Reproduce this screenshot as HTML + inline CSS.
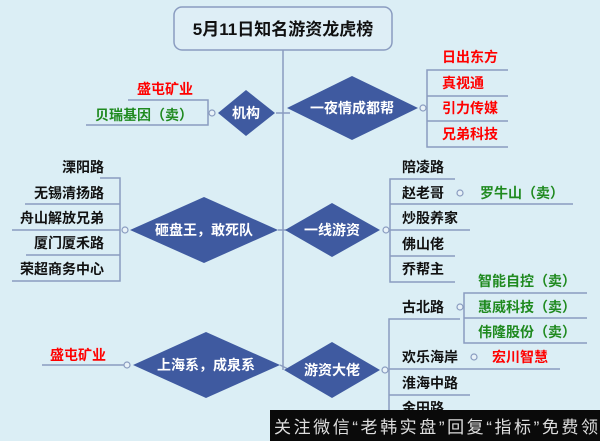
<!DOCTYPE html>
<html><head><meta charset="utf-8"><style>
html,body{margin:0;padding:0;background:#dbeef5;}
svg{display:block}
text{font-family:"Liberation Sans","Noto Sans CJK SC",sans-serif;font-weight:bold;}
</style></head><body>
<svg width="600" height="441" viewBox="0 0 600 441" xmlns="http://www.w3.org/2000/svg">
<rect width="600" height="441" fill="#dbeef5"/>
<g stroke="#8a9cc0" stroke-width="1.5" fill="none">
<line x1="283" y1="50" x2="283" y2="370"/>
<line x1="276" y1="113" x2="290" y2="113"/>
<line x1="278" y1="230" x2="290" y2="230"/>
<line x1="280" y1="365" x2="290" y2="370"/>
<polyline points="128,100 208,100 208,125 86,125"/>
<polyline points="508,70 427,70 427,147 508,147"/>
<line x1="427" y1="96" x2="508" y2="96"/>
<line x1="427" y1="121" x2="508" y2="121"/>
<polyline points="100,178 120,178 120,281 12,281"/>
<line x1="25" y1="204" x2="120" y2="204"/>
<line x1="12" y1="230" x2="120" y2="230"/>
<line x1="26" y1="255" x2="120" y2="255"/>
<polyline points="455,179 390,179 390,282 455,282"/>
<line x1="390" y1="204" x2="573" y2="204"/>
<line x1="390" y1="230" x2="470" y2="230"/>
<line x1="390" y1="256" x2="455" y2="256"/>
<polyline points="460,319 389,319 389,441"/>
<line x1="389" y1="369" x2="560" y2="369"/>
<line x1="389" y1="395" x2="470" y2="395"/>
<polyline points="587,293 464,293 464,343 587,343"/>
<line x1="464" y1="318" x2="587" y2="318"/>
<line x1="42" y1="365" x2="125" y2="365"/>
</g>
<g fill="#e8f2f8" stroke="#8a9cc0" stroke-width="1.2">
<circle cx="212" cy="113" r="3"/><circle cx="423" cy="108" r="3"/>
<circle cx="125" cy="230" r="3"/><circle cx="386" cy="230" r="3"/>
<circle cx="460" cy="193" r="3"/><circle cx="460" cy="307" r="3"/>
<circle cx="474" cy="357" r="3"/><circle cx="385" cy="370" r="3"/>
<circle cx="127" cy="365" r="3"/>
</g>
<rect x="174" y="7" width="218" height="43" rx="8" fill="#deeef6" stroke="#8a9cc0" stroke-width="1.5"/>
<text x="283" y="35" font-size="17" text-anchor="middle" fill="#111">5月11日知名游资龙虎榜</text>
<g fill="#3f5aa0">
<polygon points="218,113 246,90 275,113 246,136"/>
<polygon points="287,108 352,76 418,108 352,140"/>
<polygon points="130,230 204,197 278,230 204,263"/>
<polygon points="285,230 332,203 380,230 332,257"/>
<polygon points="133,365 206,332 280,365 206,398"/>
<polygon points="284,370 332,342 380,370 332,398"/>
</g>
<g fill="#fff" font-size="14" text-anchor="middle">
<text x="246" y="118">机构</text>
<text x="352" y="113">一夜情成都帮</text>
<text x="204" y="235">砸盘王，敢死队</text>
<text x="332" y="235">一线游资</text>
<text x="206" y="370">上海系，成泉系</text>
<text x="332" y="375">游资大佬</text>
</g>
<g font-size="14" fill="#f00">
<text x="137" y="94">盛屯矿业</text>
<text x="442" y="62">日出东方</text>
<text x="442" y="88">真视通</text>
<text x="442" y="113">引力传媒</text>
<text x="442" y="139">兄弟科技</text>
<text x="492" y="362">宏川智慧</text>
<text x="50" y="360">盛屯矿业</text>
</g>
<g font-size="14" fill="#1f8a1f">
<text x="95" y="120">贝瑞基因（卖）</text>
<text x="480" y="198">罗牛山（卖）</text>
<text x="478" y="286">智能自控（卖）</text>
<text x="478" y="312">惠威科技（卖）</text>
<text x="478" y="337">伟隆股份（卖）</text>
</g>
<g font-size="14" fill="#111">
<text x="62" y="172">溧阳路</text>
<text x="34" y="198">无锡清扬路</text>
<text x="20" y="223">舟山解放兄弟</text>
<text x="34" y="248">厦门厦禾路</text>
<text x="20" y="274">荣超商务中心</text>
<text x="402" y="172">陪凌路</text>
<text x="402" y="198">赵老哥</text>
<text x="402" y="223">炒股养家</text>
<text x="402" y="249">佛山佬</text>
<text x="402" y="274">乔帮主</text>
<text x="402" y="312">古北路</text>
<text x="402" y="362">欢乐海岸</text>
<text x="402" y="388">淮海中路</text>
<text x="402" y="413">金田路</text>
</g>
<rect x="270" y="410" width="330" height="31" fill="#0a0a0a"/>
<text x="274" y="433" font-size="17" fill="#ddd" textLength="324" lengthAdjust="spacing" style="font-weight:normal">关注微信“老韩实盘”回复“指标”免费领</text>
</svg>
</body></html>
